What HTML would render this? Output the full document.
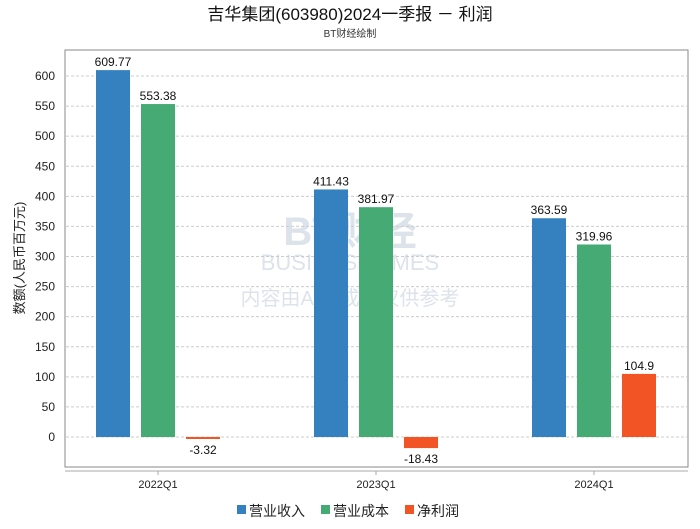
<!DOCTYPE html>
<html><head><meta charset="utf-8"><style>
body{margin:0;background:#fff;font-family:"Liberation Sans","Noto Sans CJK SC",sans-serif}
svg text{font-family:"Liberation Sans","Noto Sans CJK SC",sans-serif}
</style></head><body>
<svg id="c" width="700" height="524" xmlns="http://www.w3.org/2000/svg">
<text x="350" y="20" text-anchor="middle" font-size="17" fill="#111">吉华集团(603980)2024一季报 － 利润</text>
<text x="350" y="37" text-anchor="middle" font-size="10" fill="#333">BT财经绘制</text>
<g fill="#dde3ea">
<text x="350" y="245" text-anchor="middle" font-size="40" font-weight="bold" font-family="Liberation Serif">BT财经</text>
<text x="350" y="270" text-anchor="middle" font-size="22" font-family="Liberation Serif">BUSINESSTIMES</text>
<text x="350" y="305" text-anchor="middle" font-size="20">内容由AI生成，仅供参考</text>
</g>
<rect x="65" y="50" width="623" height="417" fill="none" stroke="#888"/>
<line x1="65" y1="471" x2="688" y2="471" stroke="#aaa"/>
<g id="grid"></g><g id="bars"></g><g id="xt"></g>
<text transform="translate(24,258) rotate(-90)" text-anchor="middle" font-size="13" fill="#222">数额(人民币百万元)</text>
<g font-size="14" fill="#222">
<rect x="237" y="505" width="9" height="9" fill="#3581c0"/><text x="249" y="516">营业收入</text>
<rect x="321" y="505" width="9" height="9" fill="#46aa74"/><text x="333" y="516">营业成本</text>
<rect x="405" y="505" width="9" height="9" fill="#f25426"/><text x="417" y="516">净利润</text>
</g>
</svg>
<script>
const categories=["2022Q1","2023Q1","2024Q1"];
const revenue=[609.77,411.43,363.59];
const cost=[553.38,381.97,319.96];
const profit=[-3.32,-18.43,104.9];
const yTicks=[0,50,100,150,200,250,300,350,400,450,500,550,600];
const NS="http://www.w3.org/2000/svg";
const y=v=>437-v*361/600;
const xc=i=>158+218*i;
function mk(t,a,p){const e=document.createElementNS(NS,t);for(const k in a)e.setAttribute(k,a[k]);p.appendChild(e);return e;}
const g=document.getElementById('grid');
yTicks.forEach(v=>{
 const l=mk('line',{x1:66,x2:687,y1:y(v),y2:y(v),stroke:'#ccc','stroke-dasharray':'3,2'},g);
 
 
 const t=mk('text',{x:55,y:y(v)+4,'text-anchor':'end','font-size':12,fill:'#222'},g);
 t.textContent=v;
 
 
});
const b=document.getElementById('bars');
const series=[[revenue,'#3581c0',-45,'revenue'],[cost,'#46aa74',0,'cost'],[profit,'#f25426',45,'profit']];
categories.forEach((c,i)=>{
 series.forEach(([arr,col,off,nm])=>{
  const v=arr[i],cx=xc(i)+off;
  const top=Math.min(y(v),y(0)),h=Math.abs(y(v)-y(0));
  const r=mk('rect',{x:cx-17,y:top,width:34,height:Math.max(h,1),fill:col},b);
  
  
  const t=mk('text',{x:cx,y:v>=0?y(v)-4:y(v)+15,'text-anchor':'middle','font-size':12,fill:'#111'},b);
  t.textContent=v;
  
  
 });
 const xt=document.getElementById('xt');
 const tk=mk('line',{x1:xc(i),x2:xc(i),y1:471,y2:475,stroke:'#aaa'},xt);
 
 
 const t=mk('text',{x:xc(i),y:488,'text-anchor':'middle','font-size':11,fill:'#222'},xt);
 t.textContent=c;
 
 
});
</script>
</body></html>
